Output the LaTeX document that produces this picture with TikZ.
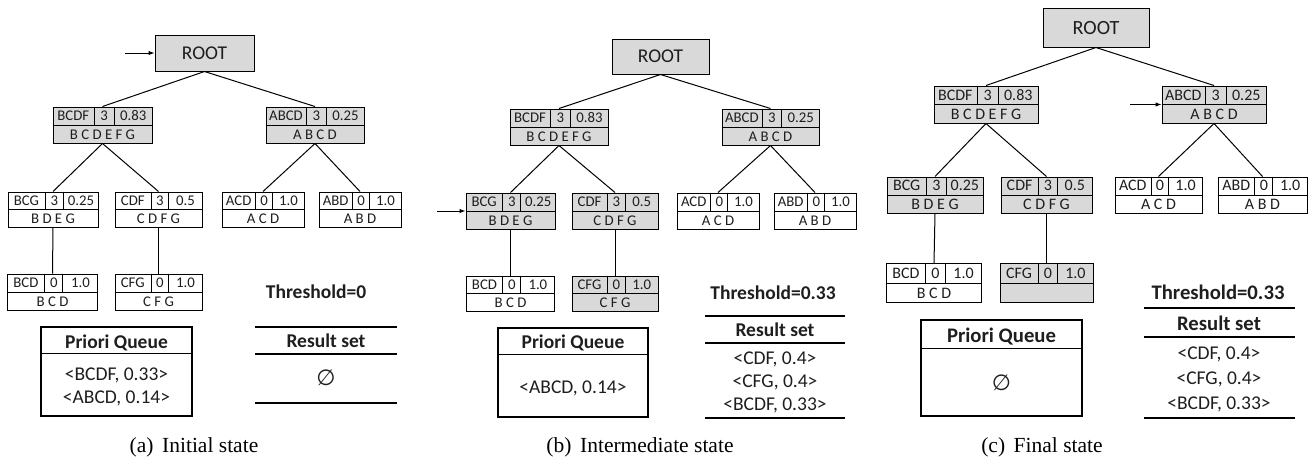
\documentclass[tikz,border=0pt]{standalone}
\usepackage{fontspec}
\setmainfont{Carlito}
\newfontfamily\capfont{Liberation Serif}
\newfontfamily\symfont{DejaVu Sans}
\usepackage{xcolor}
\usepackage{tikz}
\usetikzlibrary{calc,arrows.meta}

\definecolor{boxgray}{RGB}{217,217,217}
\definecolor{inkgray}{RGB}{30,30,30}

\tikzset{
  tbox/.style={draw, line width=1pt, inner sep=0pt},
  rootbox/.style={tbox, fill=boxgray, bigtext},
  celltext/.style={font=\fontsize{14.8}{15}\selectfont, text=inkgray, inner sep=0pt, text height=9.5pt, text depth=0pt},
  bigtext/.style={font=\fontsize{19.5}{20}\selectfont, text=inkgray, inner sep=0pt, text height=12.5pt, text depth=0pt},
  boldtext/.style={font=\bfseries\fontsize{19.5}{20}\selectfont, text=inkgray, inner sep=0pt, text height=12.5pt, text depth=0pt},
  captext/.style={font=\capfont\fontsize{21.5}{22}\selectfont, inner sep=0pt, text height=14.2pt, text depth=0pt},
  emptyset/.style={font=\symfont\fontsize{22}{22}\selectfont, text=inkgray, inner sep=0pt},
  edge/.style={line width=1pt},
  rule/.style={line width=1.2pt},
  pointer/.style={line width=1pt, -{Latex[length=6pt,width=4.5pt]}},
}

% tree node: name, centre, width, height, fill, key, count, score, items
\newcommand{\tnode}[9]{%
  \node[tbox, fill=#5, minimum width=#3, minimum height=#4] (#1) at #2 {};
  \coordinate (#1-l) at ($(#1.north west)!0.5!(#1.west)$);
  \coordinate (#1-r) at ($(#1.north east)!0.5!(#1.east)$);
  \draw[edge] (#1.west) -- (#1.east)
    ($(#1.north west)!0.415!(#1.north east)$) -- ($(#1.west)!0.415!(#1.east)$)
    ($(#1.north west)!0.615!(#1.north east)$) -- ($(#1.west)!0.615!(#1.east)$);
  \node[celltext] (#1-key) at ($(#1-l)!0.2075!(#1-r)$) {#6};
  \node[celltext] (#1-cnt) at ($(#1-l)!0.515!(#1-r)$) {#7};
  \node[celltext] (#1-val) at ($(#1-l)!0.8075!(#1-r)$) {#8};
  \node[celltext] (#1-items) at ($(#1.south)!0.5!(#1.center)$) {#9};
}

\begin{document}
\begin{tikzpicture}[x=1pt, y=-1pt]
    \useasboundingbox (0,0) rectangle (1314,459);

    % (a) initial state
    \node[rootbox, minimum width=99, minimum height=36] (root-a) at (204.5,53) {ROOT};
    \coordinate (in-a) at (125,53);
    \draw[pointer] (in-a) to (root-a.west);
    \tnode{a-bcdf}{(102.5,125)}{99}{36}{boxgray}{BCDF}{3}{0.83}{B C D E F G}
    \tnode{a-abcd}{(315,125)}{98}{36}{boxgray}{ABCD}{3}{0.25}{A B C D}
    \tnode{a-bcg}{(53,209.5)}{90}{35}{white}{BCG}{3}{0.25}{B D E G}
    \tnode{a-cdf}{(158.5,209.5)}{87}{35}{white}{CDF}{3}{0.5}{C D F G}
    \tnode{a-acd}{(263,209.5)}{82}{35}{white}{ACD}{0}{1.0}{A C D}
    \tnode{a-abd}{(360,209.5)}{82}{35}{white}{ABD}{0}{1.0}{A B D}
    \tnode{a-bcd}{(52.5,292)}{90}{36}{white}{BCD}{0}{1.0}{B C D}
    \tnode{a-cfg}{(158.5,292)}{87}{36}{white}{CFG}{0}{1.0}{C F G}
    \draw[edge] (root-a.south) to (a-bcdf.north);
    \draw[edge] (root-a.south) to (a-abcd.north);
    \draw[edge] (a-bcdf.south) to (a-bcg.north);
    \draw[edge] (a-bcdf.south) to (a-cdf.north);
    \draw[edge] (a-abcd.south) to (a-acd.north);
    \draw[edge] (a-abcd.south) to (a-abd.north);
    \draw[edge] (a-bcg.south) to (a-bcd.north);
    \draw[edge] (a-cdf.south) to (a-cfg.north);

    \node[boldtext] (th-a) at (316,292.5) {Threshold=0};
    \node[tbox, line width=1.2pt, minimum width=151, minimum height=89] (queue-a) at (116.5,371.5) {};
    \draw[rule] ($(queue-a.north west)+(0,27)$) -- ($(queue-a.north east)+(0,27)$);
    \node[boldtext] (queue-a-head) at (116.5,342.5) {Priori Queue};
    \node[bigtext] (queue-a-1) at (116.5,374) {<BCDF, 0.33>};
    \node[bigtext] (queue-a-2) at (116.5,397) {<ABCD, 0.14>};
    \draw[rule] (255,327) -- (397,327) (255,354) -- (397,354) (255,403) -- (397,403);
    \node[boldtext] (res-a-head) at (326,341) {Result set};
    \node[emptyset] (res-a-1) at (326,378) {∅};
    \node[captext] (cap-a) at (194,445) {(a)\hspace{0.4em}Initial state};

    % (b) intermediate state
    \node[rootbox, minimum width=97, minimum height=35] (root-b) at (660.5,56.5) {ROOT};
    \tnode{b-bcdf}{(559,127)}{98}{36}{boxgray}{BCDF}{3}{0.83}{B C D E F G}
    \tnode{b-abcd}{(770.5,127)}{97}{36}{boxgray}{ABCD}{3}{0.25}{A B C D}
    \tnode{b-bcg}{(510.5,211)}{89}{36}{boxgray}{BCG}{3}{0.25}{B D E G}
    \tnode{b-cdf}{(615,211)}{86}{36}{boxgray}{CDF}{3}{0.5}{C D F G}
    \tnode{b-acd}{(718,211)}{82}{36}{white}{ACD}{0}{1.0}{A C D}
    \tnode{b-abd}{(815,211)}{82}{36}{white}{ABD}{0}{1.0}{A B D}
    \tnode{b-bcd}{(510.5,293.5)}{88}{35}{white}{BCD}{0}{1.0}{B C D}
    \tnode{b-cfg}{(615,293.5)}{86}{35}{boxgray}{CFG}{0}{1.0}{C F G}
    \coordinate (in-b) at (437,211);
    \draw[pointer] (in-b) to (b-bcg.west);
    \draw[edge] (root-b.south) to (b-bcdf.north);
    \draw[edge] (root-b.south) to (b-abcd.north);
    \draw[edge] (b-bcdf.south) to (b-bcg.north);
    \draw[edge] (b-bcdf.south) to (b-cdf.north);
    \draw[edge] (b-abcd.south) to (b-acd.north);
    \draw[edge] (b-abcd.south) to (b-abd.north);
    \draw[edge] (b-bcg.south) to (b-bcd.north);
    \draw[edge] (b-cdf.south) to (b-cfg.north);

    \node[boldtext] (th-b) at (773,293) {Threshold=0.33};
    \node[tbox, line width=1.2pt, minimum width=150, minimum height=89] (queue-b) at (573,372.5) {};
    \draw[rule] ($(queue-b.north west)+(0,27)$) -- ($(queue-b.north east)+(0,27)$);
    \node[boldtext] (queue-b-head) at (573,342) {Priori Queue};
    \node[bigtext] (queue-b-1) at (573,387) {<ABCD, 0.14>};
    \draw[rule] (705,316) -- (845,316) (705,343) -- (845,343) (705,418) -- (845,418);
    \node[boldtext] (res-b-head) at (775,330) {Result set};
    \node[bigtext] (res-b-1) at (775,358) {<CDF, 0.4>};
    \node[bigtext] (res-b-2) at (775,381) {<CFG, 0.4>};
    \node[bigtext] (res-b-3) at (775,404) {<BCDF, 0.33>};
    \node[captext] (cap-b) at (640,445) {(b)\hspace{0.4em}Intermediate state};

    % (c) final state
    \begin{scope}[celltext/.append style={font=\fontsize{16}{16}\selectfont, text height=10.2pt},
                  boldtext/.append style={font=\bfseries\fontsize{20.7}{21}\selectfont, text height=13.3pt},
                  rootbox/.append style={font=\fontsize{20.2}{21}\selectfont, text height=13pt}]
    \node[rootbox, minimum width=106, minimum height=39] (root-c) at (1096,27.5) {ROOT};
    \tnode{c-bcdf}{(986,104.5)}{104}{37}{boxgray}{BCDF}{3}{0.83}{B C D E F G}
    \tnode{c-abcd}{(1214,104.5)}{104}{37}{boxgray}{ABCD}{3}{0.25}{A B C D}
    \tnode{c-bcg}{(935,195)}{96}{36}{boxgray}{BCG}{3}{0.25}{B D E G}
    \tnode{c-cdf}{(1046.5,195)}{91}{36}{boxgray}{CDF}{3}{0.5}{C D F G}
    \tnode{c-acd}{(1158.5,195)}{87}{36}{white}{ACD}{0}{1.0}{A C D}
    \tnode{c-abd}{(1262.5,195)}{89}{36}{white}{ABD}{0}{1.0}{A B D}
    \tnode{c-bcd}{(934,283)}{95}{39}{white}{BCD}{0}{1.0}{B C D}
    \tnode{c-cfg}{(1046.5,283)}{93}{39}{boxgray}{CFG}{0}{1.0}{}
    \coordinate (in-c) at (1130,104.5);
    \draw[pointer] (in-c) to (c-abcd.west);
    \draw[edge] (root-c.south) to (c-bcdf.north);
    \draw[edge] (root-c.south) to (c-abcd.north);
    \draw[edge] (c-bcdf.south) to (c-bcg.north);
    \draw[edge] (c-bcdf.south) to (c-cdf.north);
    \draw[edge] (c-abcd.south) to (c-acd.north);
    \draw[edge] (c-abcd.south) to (c-abd.north);
    \draw[edge] (c-bcg.south) to (c-bcd.north);
    \draw[edge] (c-cdf.south) to (c-cfg.north);

    \node[boldtext] (th-c) at (1218,293) {Threshold=0.33};
    \node[tbox, line width=1.2pt, minimum width=161, minimum height=96] (queue-c) at (1001.5,368) {};
    \draw[rule] ($(queue-c.north west)+(0,29)$) -- ($(queue-c.north east)+(0,29)$);
    \node[boldtext] (queue-c-head) at (1001.5,336) {Priori Queue};
    \node[emptyset] (queue-c-1) at (1001.5,383) {∅};
    \draw[rule] (1144,308) -- (1295,308) (1144,337) -- (1295,337) (1144,418) -- (1295,418);
    \node[boldtext] (res-c-head) at (1219,324) {Result set};
    \node[bigtext] (res-c-1) at (1219,353) {<CDF, 0.4>};
    \node[bigtext] (res-c-2) at (1219,378) {<CFG, 0.4>};
    \node[bigtext] (res-c-3) at (1219,403) {<BCDF, 0.33>};
    \end{scope}
    \node[captext] (cap-c) at (1042,445) {(c)\hspace{0.4em}Final state};
\end{tikzpicture}
\end{document}
